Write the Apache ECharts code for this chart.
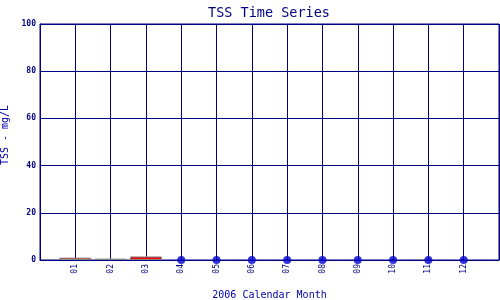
<!DOCTYPE html>
<html><head><meta charset="utf-8">
<script src="https://cdn.jsdelivr.net/npm/echarts@6/dist/echarts.min.js"></script>
<style>html,body{margin:0;padding:0;background:#fff}#c{width:500px;height:300px}</style>
</head><body><div id="c"></div>
<script>
var monthLabels = ['01','02','03','04','05','06','07','08','09','10','11','12'];
var barMonths = [1, 2, 3];
var barValues = [1.0, 0.6, 1.5];
var barFill = ['#ee0000', '#888888', '#ee0000'];
var zeroMonths = [4, 5, 6, 7, 8, 9, 10, 11, 12];
var zeroValues = [0, 0, 0, 0, 0, 0, 0, 0, 0];
var yTicks = [0, 20, 40, 60, 80, 100];

var navy = '#000080';
var chart = echarts.init(document.getElementById('c'), null, {renderer:'canvas'});
chart.setOption({
  animation: false,
  backgroundColor: '#fff',
  title: {
    text: 'TSS Time Series', left: 264, top: 1, textAlign: 'center',
    textStyle: {fontFamily: 'DejaVu Sans Mono', fontSize: 13.5, fontWeight: 'normal', color: navy}
  },
  grid: {left: 40, right: 1, top: 24, bottom: 40, show: true, borderColor: navy, borderWidth: 1,
         containLabel: false, outerBoundsMode: 'none'},
  xAxis: {
    type: 'value', min: 0, max: monthLabels.length + 1, interval: 1,
    name: '2006 Calendar Month', nameLocation: 'middle', nameGap: 30,
    nameTextStyle: {fontFamily: 'DejaVu Sans Mono', fontSize: 10, color: '#0000aa'},
    axisLine: {lineStyle: {color: navy, width: 1}},
    axisTick: {show: false},
    splitLine: {show: true, lineStyle: {color: navy, width: 1}},
    axisLabel: {
      rotate: 90, margin: 4, fontFamily: 'DejaVu Sans Mono', fontSize: 8, color: navy,
      showMinLabel: true, showMaxLabel: true, hideOverlap: false,
      formatter: function(v){ return (v >= 1 && v <= monthLabels.length) ? monthLabels[v-1] : ''; }
    }
  },
  yAxis: {
    type: 'value', min: yTicks[0], max: yTicks[yTicks.length-1], interval: yTicks[1]-yTicks[0],
    name: 'TSS - mg/L', nameLocation: 'middle', nameGap: 25,
    nameTextStyle: {fontFamily: 'DejaVu Sans Mono', fontSize: 10, color: '#0000aa', padding: [0, 0, 0, 14]},
    axisLine: {show: true, lineStyle: {color: navy, width: 1}},
    axisTick: {show: false},
    splitLine: {show: true, lineStyle: {color: navy, width: 1}},
    axisLabel: {margin: 4, fontFamily: 'DejaVu Sans Mono', fontSize: 8, fontWeight: 'bold', color: navy}
  },
  series: [
    {
      type: 'bar', barWidth: 32, z: 5,
      data: barMonths.map(function(m, i){
        return {value: [m, barValues[i]], itemStyle: {color: barFill[i], borderColor: '#888888', borderWidth: 1}};
      })
    },
    {
      type: 'scatter', symbol: 'circle', symbolSize: 8, z: 6,
      itemStyle: {color: '#0000cc'},
      data: zeroMonths.map(function(m, i){ return [m, zeroValues[i]]; }),
      clip: false
    }
  ]
});
</script></body></html>
